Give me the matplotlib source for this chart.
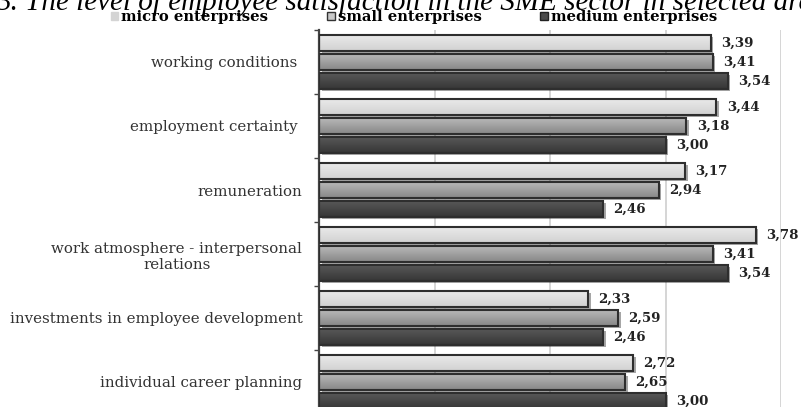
import numpy as np
import matplotlib
matplotlib.use("Agg")
import matplotlib.pyplot as plt
from matplotlib import patheffects as pe
from matplotlib.colors import LinearSegmentedColormap
from matplotlib.patches import Rectangle

# ---- data -------------------------------------------------------------
categories = [
    "working conditions ",
    "employment certainty ",
    "remuneration",
    "work atmosphere - interpersonal\nrelations",
    "investments in employee development",
    "individual career planning",
]
series_names = ["micro enterprises", "small enterprises", "medium enterprises"]
micro = [3.39, 3.44, 3.17, 3.78, 2.33, 2.72]
small = [3.41, 3.18, 2.94, 3.41, 2.59, 2.65]
medium = [3.54, 3.00, 2.46, 3.54, 2.46, 3.00]
x_ticks = [0, 1, 2, 3, 4]

title_text = "3. The level of employee satisfaction in the SME sector in selected areas"

# ---- style --------------------------------------------------------------
# (top colour, bottom colour) of each bar's vertical gradient
gradients = [("#e9e9e9", "#d2d2d2"), ("#b8b8b8", "#878787"), ("#585858", "#363636")]
legend_face = ["#d4d4d4", "#c8c8c8", "#4a4a4a"]
legend_edge = ["#d4d4d4", "#333333", "#222222"]
edge_col = "#2e2e2e"

W, H = 801, 407
fig = plt.figure(figsize=(W / 100, H / 100), dpi=100)

# plot area; its lower part runs past the bottom of the figure
left_px, right_px, top_px, bottom_px = 319, 781, 30, 414
ax = fig.add_axes([left_px / W, (H - bottom_px) / H,
                   (right_px - left_px) / W, (bottom_px - top_px) / H])

n = len(categories)
y = np.arange(n)
step = 0.297
bar_h = 0.25
values = [micro, small, medium]
offsets = [-step, 0.0, step]

for k, (vals, off) in enumerate(zip(values, offsets)):
    top_c, bot_c = gradients[k]
    bars = ax.barh(y + off, vals, height=bar_h, color=bot_c, edgecolor="none",
                   zorder=2,
                   path_effects=[pe.SimplePatchShadow(offset=(1.8, -1.6),
                                                      shadow_rgbFace="#000000",
                                                      alpha=0.35),
                                 pe.Normal()])
    cmap = LinearSegmentedColormap.from_list(f"g{k}", [top_c, bot_c])
    grad = np.linspace(0, 1, 64).reshape(-1, 1)
    for b in bars:
        x0, y0, w, h = b.get_x(), b.get_y(), b.get_width(), b.get_height()
        im = ax.imshow(grad, cmap=cmap, aspect="auto", interpolation="bilinear",
                       extent=(x0, x0 + w, y0 + h, y0), zorder=2.2)
        im.set_clip_path(b)
    ax.barh(y + off, vals, height=bar_h, color="none", edgecolor=edge_col,
            linewidth=1.5, zorder=3)
    for yy, v in zip(y + off, vals):
        ax.annotate(f"{v:.2f}".replace(".", ","), xy=(v, yy),
                    xytext=(7.5, 0), textcoords="offset points",
                    ha="left", va="center", fontsize=9.6,
                    family="DejaVu Serif", fontweight="bold", color="#222222")

ax.set_xlim(x_ticks[0], x_ticks[-1])
ax.set_ylim(n - 0.5, -0.5)
ax.set_xticks(x_ticks)
ax.xaxis.set_ticks_position("none")
ax.set_xticklabels([])
ax.grid(axis="x", color="#cacaca", linewidth=1.1, zorder=0)
ax.set_axisbelow(True)

ax.set_yticks(y)
ax.set_yticklabels(categories, family="DejaVu Serif", fontsize=10.8,
                   color="#333333", multialignment="center")
ax.tick_params(axis="y", which="major", length=0, pad=12)
ax.set_yticks(np.arange(n + 1) - 0.5, minor=True)
ax.tick_params(axis="y", which="minor", length=3.5, width=1.0, color="#444444",
               direction="out")

for s in ("top", "right", "bottom"):
    ax.spines[s].set_visible(False)
ax.spines["left"].set_color("#444444")
ax.spines["left"].set_linewidth(1.6)

# legend
handles = [Rectangle((0, 0), 1, 1, facecolor=legend_face[i],
                     edgecolor=legend_edge[i], linewidth=1.0)
           for i in range(3)]
fig.legend(handles, series_names, loc="center", bbox_to_anchor=(414 / W, 1 - 17.5 / H),
           ncol=3, frameon=False, handlelength=0.5, handleheight=0.5,
           handletextpad=0.2, columnspacing=4.0, borderpad=0, borderaxespad=0,
           prop={"family": "DejaVu Serif", "weight": "bold", "size": 10.6})

# caption running past the figure edges
fig.text(-4 / W, 1 - 10 / H, title_text, ha="left", va="baseline",
         family="Liberation Serif", style="italic", fontsize=21, color="#000000")

fig.savefig("out.png", dpi=100)
